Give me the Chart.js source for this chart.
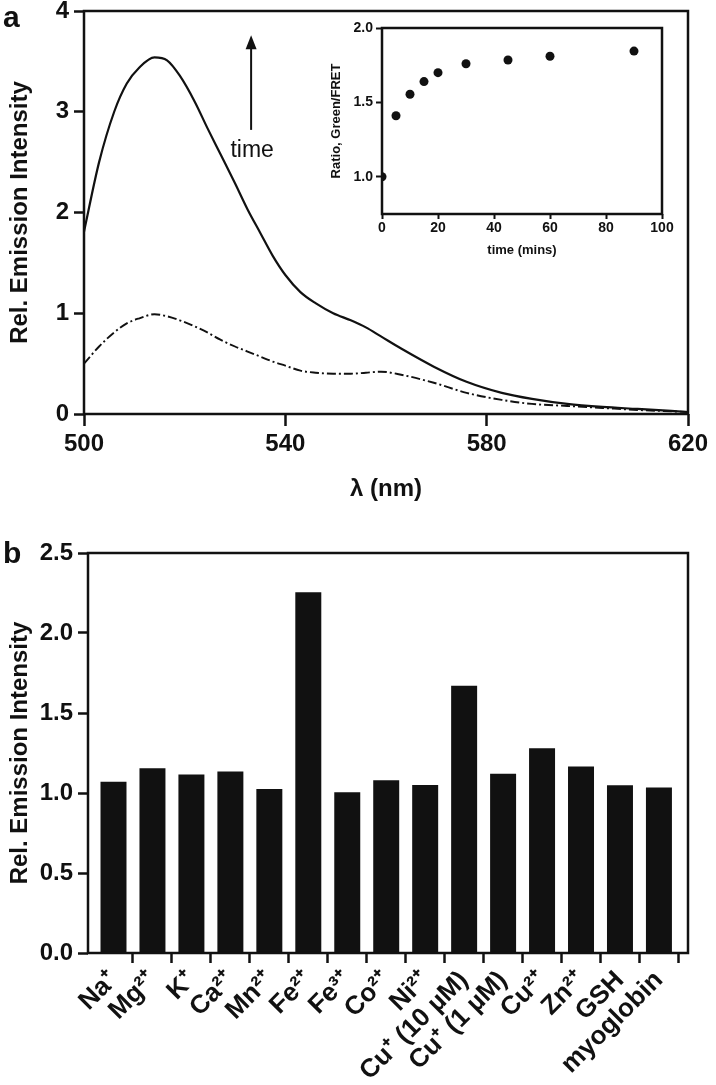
<!DOCTYPE html>
<html>
<head>
<meta charset="utf-8">
<script src="https://cdn.jsdelivr.net/npm/chart.js@4.4.1/dist/chart.umd.min.js"></script>
<style>
  html, body { margin: 0; padding: 0; background: #fff; }
  #page { position: relative; width: 716px; height: 1085px; overflow: hidden;
          font-family: "Liberation Sans", Arial, sans-serif; color: #111; }
  .box { position: absolute; }
  .tag { position: absolute; font-weight: bold; font-size: 30px; line-height: 30px; }
</style>
</head>
<body>
<div id="page">
  <canvas id="spectra" class="box" width="716" height="520" style="left:0;top:0"></canvas>
  <canvas id="ratio" class="box" width="400" height="270" style="left:300px;top:0"></canvas>
  <canvas id="ions" class="box" width="716" height="545" style="left:0;top:540px"></canvas>
  <div class="tag" style="left:3px;top:2px">a</div>
  <div class="tag" style="left:3px;top:538px">b</div>
</div>

<script>
// panel a: emission spectra
const wavelengths = [500, 503, 506, 508.5, 511, 514, 516.5, 519, 522, 524.5, 527, 530, 532.5, 535,
  537.5, 540, 543, 546, 549.5, 553, 556, 559, 563, 569.5, 576, 583, 589, 596, 603, 610, 620];
const lateIntensity = [1.81, 2.50, 3.00, 3.28, 3.44, 3.54, 3.51, 3.36, 3.10, 2.84, 2.59, 2.29, 2.03, 1.80,
  1.57, 1.38, 1.21, 1.10, 1.00, 0.93, 0.86, 0.77, 0.65, 0.47, 0.32, 0.21, 0.15, 0.10, 0.07, 0.05, 0.02];
const earlyIntensity = [0.50, 0.67, 0.81, 0.90, 0.95, 0.99, 0.97, 0.93, 0.87, 0.81, 0.74, 0.67, 0.62, 0.57,
  0.52, 0.48, 0.43, 0.41, 0.40, 0.40, 0.41, 0.42, 0.39, 0.31, 0.21, 0.14, 0.10, 0.08, 0.06, 0.04, 0.02];
const lambdaTicks = [500, 540, 580, 620];
const intensityTicks = [0, 1, 2, 3, 4];

// inset: green/FRET ratio over time
const times = [0, 5, 10, 15, 20, 30, 45, 60, 90];
const ratios = [1.00, 1.41, 1.555, 1.64, 1.70, 1.76, 1.785, 1.81, 1.845];
const timeTicks = [0, 20, 40, 60, 80, 100];
const ratioTicks = [1.0, 1.5, 2.0];

// panel b: selectivity
const ionLabels = ["Na\u207A", "Mg\u00B2\u207A", "K\u207A", "Ca\u00B2\u207A", "Mn\u00B2\u207A", "Fe\u00B2\u207A",
  "Fe\u00B3\u207A", "Co\u00B2\u207A", "Ni\u00B2\u207A", "Cu\u207A (10 \u00B5M)", "Cu\u207A (1 \u00B5M)",
  "Cu\u00B2\u207A", "Zn\u00B2\u207A", "GSH", "myoglobin"];
const ionResponse = [1.07, 1.155, 1.115, 1.135, 1.025, 2.255, 1.005, 1.08, 1.05, 1.67, 1.12, 1.28, 1.165, 1.048, 1.035];
const responseTicks = [0, 0.5, 1.0, 1.5, 2.0, 2.5];

const ink = "#111";
Chart.defaults.font.family = '"Liberation Sans", Arial, sans-serif';
Chart.defaults.color = ink;
Chart.defaults.animation = false;

// full box around the plot area
const frameBox = {
  id: "frameBox",
  afterDraw(chart) {
    const { ctx, chartArea: a } = chart;
    ctx.save();
    ctx.strokeStyle = ink;
    ctx.lineWidth = 2.5;
    ctx.strokeRect(a.left, a.top, a.right - a.left, a.bottom - a.top);
    ctx.restore();
  }
};

// "time" arrow annotation, placed in data units
const arrowAt = { x: 533.2, from: 2.82, to: 3.76, text: 2.55 };
const timeNote = {
  id: "timeNote",
  afterDraw(chart) {
    const { ctx, scales } = chart;
    const ax = scales.x.getPixelForValue(arrowAt.x);
    const y0 = scales.y.getPixelForValue(arrowAt.from);
    const y1 = scales.y.getPixelForValue(arrowAt.to);
    ctx.save();
    ctx.strokeStyle = ink;
    ctx.fillStyle = ink;
    ctx.lineWidth = 2;
    ctx.beginPath();
    ctx.moveTo(ax, y0);
    ctx.lineTo(ax, y1 + 10);
    ctx.stroke();
    ctx.beginPath();
    ctx.moveTo(ax, y1);
    ctx.lineTo(ax - 5.5, y1 + 14);
    ctx.lineTo(ax + 5.5, y1 + 14);
    ctx.closePath();
    ctx.fill();
    ctx.font = '23px "Liberation Sans", Arial, sans-serif';
    ctx.textAlign = "center";
    ctx.textBaseline = "alphabetic";
    ctx.fillText("time", ax + 1, scales.y.getPixelForValue(arrowAt.text));
    ctx.restore();
  }
};

function fixedTicks(list) {
  return s => { s.ticks = list.map(v => ({ value: v })); };
}

const bold = size => ({ size: size, weight: "bold" });

// panel a
new Chart(document.getElementById("spectra"), {
  type: "line",
  data: {
    datasets: [
      {
        data: wavelengths.map((w, i) => ({ x: w, y: lateIntensity[i] })),
        borderColor: ink, borderWidth: 2.2, pointRadius: 0, cubicInterpolationMode: "monotone"
      },
      {
        data: wavelengths.map((w, i) => ({ x: w, y: earlyIntensity[i] })),
        borderColor: ink, borderWidth: 1.9, borderDash: [9, 3, 2, 3], pointRadius: 0,
        cubicInterpolationMode: "monotone"
      }
    ]
  },
  options: {
    responsive: false,
    layout: { padding: { top: 11, right: 28, left: 0, bottom: 0 } },
    plugins: { legend: { display: false }, tooltip: { enabled: false } },
    scales: {
      x: {
        type: "linear", min: 500, max: 620,
        afterBuildTicks: fixedTicks(lambdaTicks),
        afterFit: s => { s.height = 106; s.paddingLeft = 0; s.paddingRight = 0; },
        border: { display: false },
        grid: { drawOnChartArea: false, tickLength: 12, tickWidth: 2.5, tickColor: ink },
        ticks: { font: bold(24), padding: 4, maxRotation: 0 },
        title: { display: true, text: "\u03BB (nm)", font: bold(24), padding: { top: 0, bottom: 16 } }
      },
      y: {
        min: 0, max: 4,
        afterBuildTicks: fixedTicks(intensityTicks),
        afterFit: s => { s.width = 84; s.paddingTop = 0; s.paddingBottom = 0; },
        border: { display: false },
        grid: { drawOnChartArea: false, tickLength: 10, tickWidth: 2.5, tickColor: ink },
        ticks: { font: bold(24), padding: 5 },
        title: { display: true, text: "Rel. Emission Intensity", font: bold(24), padding: { top: 6, bottom: 0 } }
      }
    }
  },
  plugins: [frameBox, timeNote]
});

// inset
new Chart(document.getElementById("ratio"), {
  type: "scatter",
  data: {
    datasets: [{
      data: times.map((t, i) => ({ x: t, y: ratios[i] })),
      backgroundColor: ink, borderWidth: 0, pointRadius: 4.5
    }]
  },
  options: {
    responsive: false,
    layout: { padding: { top: 28, right: 38, left: 0, bottom: 0 } },
    plugins: { legend: { display: false }, tooltip: { enabled: false } },
    scales: {
      x: {
        type: "linear", min: 0, max: 100,
        afterBuildTicks: fixedTicks(timeTicks),
        afterFit: s => { s.height = 56; s.paddingLeft = 0; s.paddingRight = 0; },
        border: { display: false },
        grid: { drawOnChartArea: false, tickLength: 5, tickWidth: 2, tickColor: ink },
        ticks: { font: bold(14), padding: 1, maxRotation: 0 },
        title: { display: true, text: "time (mins)", font: bold(13), padding: { top: 0, bottom: 12 } }
      },
      y: {
        min: 0.75, max: 2.0,
        afterBuildTicks: fixedTicks(ratioTicks),
        afterFit: s => { s.width = 82; s.paddingTop = 0; s.paddingBottom = 0; },
        border: { display: false },
        grid: { drawOnChartArea: false, tickLength: 6, tickWidth: 2, tickColor: ink },
        ticks: { font: bold(14), padding: 3, callback: v => v.toFixed(1) },
        title: { display: true, text: "Ratio, Green/FRET", font: bold(13), padding: { top: 29, bottom: 0 } }
      }
    }
  },
  plugins: [frameBox]
});

// panel b
new Chart(document.getElementById("ions"), {
  type: "bar",
  data: {
    datasets: [{
      data: ionLabels.map((_, i) => ({ x: i, y: ionResponse[i] })),
      backgroundColor: ink, barPercentage: 0.667, categoryPercentage: 1
    }]
  },
  options: {
    responsive: false,
    layout: { padding: { top: 13, right: 28, left: 0, bottom: 0 } },
    plugins: { legend: { display: false }, tooltip: { enabled: false } },
    scales: {
      x: {
        type: "linear", min: -0.6545, max: 14.746, offset: false,
        afterBuildTicks: fixedTicks(ionLabels.map((_, i) => i)),
        afterFit: s => { s.height = 132; s.paddingLeft = 0; s.paddingRight = 0; },
        border: { display: false },
        grid: {
          offset: true, drawOnChartArea: false, tickLength: 10, tickWidth: 2.5,
          tickColor: c => (c.index === 0 ? "rgba(0,0,0,0)" : ink)
        },
        ticks: {
          font: bold(26), padding: 2, autoSkip: false, minRotation: 45, maxRotation: 45,
          callback: (v, i) => ionLabels[i]
        }
      },
      y: {
        min: 0, max: 2.5,
        afterBuildTicks: fixedTicks(responseTicks),
        afterFit: s => { s.width = 88; s.paddingTop = 0; s.paddingBottom = 0; },
        border: { display: false },
        grid: { drawOnChartArea: false, tickLength: 10, tickWidth: 2.5, tickColor: ink },
        ticks: { font: bold(24), padding: 5, callback: v => v.toFixed(1) },
        title: { display: true, text: "Rel. Emission Intensity", font: bold(24), padding: { top: 6, bottom: 0 } }
      }
    }
  },
  plugins: [frameBox]
});
</script>
</body>
</html>
